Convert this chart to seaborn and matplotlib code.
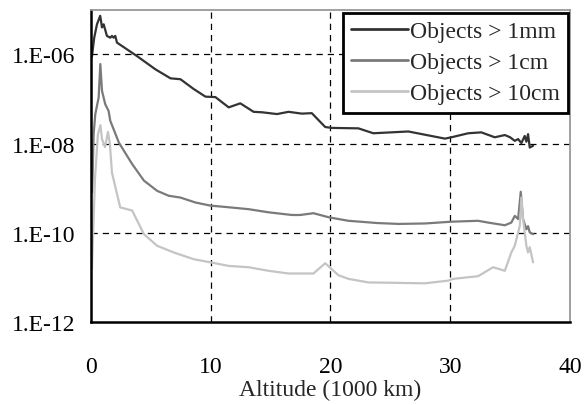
import numpy as np
import pandas as pd
import seaborn as sns
import matplotlib.pyplot as plt
from matplotlib.ticker import FixedLocator, FuncFormatter, NullLocator

# altitude in 1000 km, values given as log10 of the flux density
alt_1mm = [0.08, 0.27, 0.5, 0.77, 0.92, 1.06, 1.33, 1.61, 1.75, 1.89, 2.03, 2.17,
           3.83, 5.39, 6.64, 7.47, 8.58, 9.56, 10.39, 11.5, 12.47, 13.58, 14.28,
           15.53, 16.5, 17.6, 18.44, 19.56, 20.1, 22.33, 23.58, 26.5, 29.56, 30.1,
           31.5, 32.6, 33.72, 34.56, 35.0, 35.39, 35.67, 35.94, 36.22, 36.36,
           36.5, 36.64, 36.92]
log_1mm = [-6.05, -5.63, -5.33, -5.14, -5.40, -5.33, -5.59, -5.63, -5.59, -5.63,
           -5.59, -5.74, -6.04, -6.34, -6.54, -6.56, -6.78, -6.95, -6.96, -7.19,
           -7.10, -7.29, -7.30, -7.34, -7.29, -7.33, -7.32, -7.63, -7.65, -7.66,
           -7.77, -7.73, -7.89, -7.86, -7.77, -7.75, -7.86, -7.81, -7.86, -7.94,
           -7.90, -7.99, -7.83, -7.96, -7.79, -8.09, -8.05]

alt_1cm = [0.1, 0.22, 0.36, 0.64, 0.78, 0.92, 1.19, 1.47, 1.61, 1.89, 2.33, 3.44,
           4.42, 5.53, 6.5, 7.47, 8.72, 9.97, 11.22, 13.17, 14.83, 16.78, 17.47,
           18.58, 19.83, 21.5, 23.9, 25.67, 27.89, 30.11, 32.33, 33.17, 34.56,
           35.1, 35.39, 35.67, 35.89, 36.08, 36.36, 36.5, 36.64, 36.92]
log_1cm = [-9.09, -7.79, -7.34, -6.97, -6.22, -6.82, -7.12, -7.27, -7.49, -7.68,
           -7.98, -8.46, -8.83, -9.06, -9.17, -9.21, -9.32, -9.39, -9.42, -9.47,
           -9.54, -9.60, -9.60, -9.56, -9.65, -9.73, -9.78, -9.80, -9.79, -9.75,
           -9.73, -9.77, -9.83, -9.77, -9.62, -9.69, -9.08, -9.69, -9.92, -9.85,
           -9.99, -10.03]

alt_10cm = [0.08, 0.33, 0.58, 0.79, 0.92, 1.17, 1.42, 1.58, 1.75, 2.44, 3.44, 4.42,
            5.53, 6.92, 8.58, 9.97, 11.5, 13.17, 14.83, 16.5, 18.58, 19.56, 20.67,
            21.5, 23.17, 25.67, 27.89, 29.83, 30.25, 32.33, 33.58, 34.56, 35.1,
            35.39, 35.81, 35.94, 36.08, 36.36, 36.5, 36.64, 36.92]
log_10cm = [-10.81, -8.80, -7.79, -7.59, -7.90, -8.08, -7.74, -8.01, -8.65, -9.43,
            -9.50, -10.03, -10.29, -10.44, -10.59, -10.66, -10.74, -10.77, -10.85,
            -10.91, -10.91, -10.68, -10.95, -11.03, -11.11, -11.12, -11.13, -11.07,
            -11.03, -10.97, -10.77, -10.85, -10.44, -10.29, -9.84, -9.21, -9.69,
            -10.29, -10.44, -10.32, -10.66]

labels = ['Objects > 1mm', 'Objects > 1cm', 'Objects > 10cm']
colors = ['#333333', '#7a7a7a', '#c4c4c4']
y_ticks = [1e-12, 1e-10, 1e-8, 1e-6]
x_ticks = [0, 10, 20, 30, 40]

sns.set_style('white')
plt.rcParams['font.family'] = ['Liberation Serif', 'DejaVu Serif']
plt.rcParams['font.size'] = 17

frames = []
for alt, logs, lab in zip([alt_1mm, alt_1cm, alt_10cm], [log_1mm, log_1cm, log_10cm], labels):
    frames.append(pd.DataFrame({'alt': alt, 'flux': 10.0 ** np.array(logs), 'size': lab}))
df = pd.concat(frames, ignore_index=True)

fig = plt.figure(figsize=(5.87, 4.06), dpi=100)
ax = fig.add_axes([0.155, 0.204, 0.816, 0.770])

sns.lineplot(data=df, x='alt', y='flux', hue='size', hue_order=labels,
             palette=colors, sort=False, linewidth=1.6, ax=ax, estimator=None)

ax.set_yscale('log')
ax.set_ylim(1e-12, 1e-5)
ax.set_xlim(0, 40)
ax.yaxis.set_major_locator(FixedLocator(y_ticks))
ax.yaxis.set_minor_locator(NullLocator())
ax.yaxis.set_major_formatter(FuncFormatter(lambda v, p: '1.E%03d' % int(round(np.log10(v)))))
ax.set_xticks(x_ticks)

# dashed grid like the original
for yv in y_ticks[1:]:
    ax.axhline(yv, color='black', lw=0.9, ls=(0, (5, 4)), zorder=0)
for xv in x_ticks[1:-1]:
    ax.axvline(xv, color='black', lw=0.9, ls=(0, (5, 4)), zorder=0)

ax.tick_params(direction='inout', length=6, width=1.4, colors='black', labelsize=17, pad=8)
ax.tick_params(axis='x', pad=21)
for side in ['left', 'bottom']:
    ax.spines[side].set_color('black')
    ax.spines[side].set_linewidth(1.8)
for side in ['top', 'right']:
    ax.spines[side].set_color('#999999')
    ax.spines[side].set_linewidth(1.3)

ax.set_xlabel('Altitude (1000 km)', fontsize=17, labelpad=2)
ax.set_ylabel('')

leg = ax.legend(loc='upper right', bbox_to_anchor=(0.996, 0.99), borderaxespad=0,
                fancybox=False, framealpha=1, edgecolor='black', fontsize=17,
                handlelength=2.4, handletextpad=0.1, labelspacing=0.4,
                borderpad=0.35)
leg.get_frame().set_linewidth(2)
for line in leg.get_lines():
    line.set_linewidth(2)

fig.savefig('out.png', dpi=100)
